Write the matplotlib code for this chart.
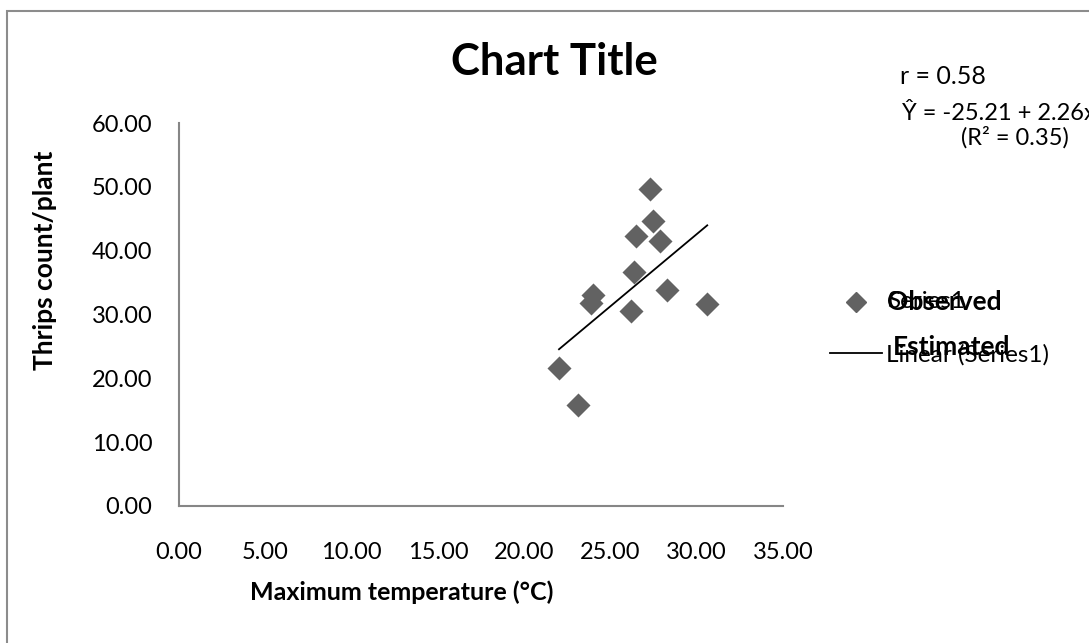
import matplotlib
matplotlib.use("Agg")
import matplotlib.pyplot as plt
from matplotlib.patches import Rectangle
from matplotlib.lines import Line2D
import numpy as np

# maximum temperature (°C) vs thrips count per plant
max_temp = [27.29, 27.49, 26.50, 27.87, 26.38, 23.97, 23.87, 28.26, 26.17, 30.61, 22.02, 23.10]
thrips = [49.61, 44.65, 42.30, 41.56, 36.71, 33.06, 31.76, 33.85, 30.49, 31.65, 21.57, 15.82]

# fitted regression reported on the chart
intercept = -25.21
slope = 2.26
r_value = 0.58
r_squared = 0.35

x_ticks = [0, 5, 10, 15, 20, 25, 30, 35]
y_ticks = [0, 10, 20, 30, 40, 50, 60]

plt.rcParams["font.family"] = ["Lato", "DejaVu Sans"]

W, H = 1089, 643
fig = plt.figure(figsize=(W / 100, H / 100), dpi=100)
fig.patch.set_facecolor("white")

# outer chart frame
fig.add_artist(Rectangle((7 / W, -0.05), 1.1, 1 - 11 / H + 0.05, transform=fig.transFigure,
                         fill=False, edgecolor="#8c8c8c", linewidth=1.5))

left, right, top, bottom = 179, 783, 123, 506
ax = fig.add_axes([left / W, 1 - bottom / H, (right - left) / W, (bottom - top) / H])

ax.scatter(max_temp, thrips, marker="D", s=150, color="#626262", linewidths=0, zorder=3)

xs = np.array([min(max_temp), max(max_temp)])
ax.plot(xs, intercept + slope * xs, color="black", linewidth=1.3, zorder=2)

ax.set_xlim(0, 35)
ax.set_ylim(0, 60)
ax.set_xticks(x_ticks)
ax.set_yticks(y_ticks)
ax.set_xticklabels([f"{v:.2f}" for v in x_ticks])
ax.set_yticklabels([f"{v:.2f}" for v in y_ticks])
ax.tick_params(length=0, labelsize=17, colors="black")
ax.tick_params(axis="x", pad=26)
ax.tick_params(axis="y", pad=19)
for side in ("top", "right"):
    ax.spines[side].set_visible(False)
for side in ("left", "bottom"):
    ax.spines[side].set_color("#868686")
    ax.spines[side].set_linewidth(1.5)

fig.text(554 / W, 1 - 62 / H, "Chart Title", ha="center", va="center",
         fontsize=31.5, fontweight="bold")
fig.text(402 / W, 1 - 592 / H, "Maximum temperature (°C)", ha="center", va="center",
         fontsize=18, fontweight="bold")
fig.text(45 / W, 1 - 260 / H, "Thrips count/plant", ha="center", va="center",
         rotation=90, fontsize=19, fontweight="bold")

fig.text(900 / W, 1 - 77 / H, f"r = {r_value:.2f}", ha="left", va="center", fontsize=18)
fig.text(902 / W, 1 - 114 / H, f"Ŷ = {intercept:.2f} + {slope:.2f}x", ha="left",
         va="center", fontsize=17)
fig.text(1015 / W, 1 - 137 / H, f"(R² = {r_squared:.2f})", ha="center", va="center",
         fontsize=17)

# legend entries, with the default names still showing underneath
fig.add_artist(Line2D([856 / W], [1 - 302 / H], marker="D", markersize=10,
                      color="#626262", linestyle="none", transform=fig.transFigure))
fig.text(887 / W, 1 - 302 / H, "Series1", ha="left", va="center", fontsize=17.5)
fig.text(887 / W, 1 - 302 / H, "Observed", ha="left", va="center", fontsize=19,
         fontweight="bold")
fig.add_artist(Line2D([830 / W, 882 / W], [1 - 353 / H, 1 - 353 / H], color="black",
                      linewidth=1.3, transform=fig.transFigure))
fig.text(886 / W, 1 - 355 / H, "Linear (Series1)", ha="left", va="center", fontsize=17.5)
fig.text(893 / W, 1 - 347 / H, "Estimated", ha="left", va="center", fontsize=19,
         fontweight="bold")

fig.savefig("out.png", dpi=100)
